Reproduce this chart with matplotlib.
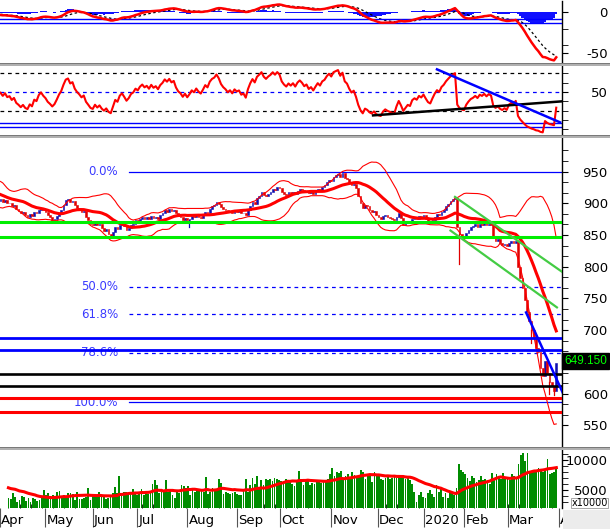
import numpy as np
import pandas as pd
import matplotlib
matplotlib.use("Agg")
import matplotlib.pyplot as plt
from matplotlib.patches import Rectangle
from matplotlib.transforms import blended_transform_factory

W, H, DPI = 610, 529, 100

# ---- data ----
# closes before the visible window (only used to warm up MA / bands / MACD / RSI)
warmup_close = [912, 918, 922, 919, 925, 928, 924, 920, 917, 921, 918, 915, 920, 924, 921,
                925, 930, 935, 932, 926, 920, 914, 908, 903, 900, 904, 910, 916, 920, 918,
                912, 907, 903, 906, 904]

# daily closes, Apr 2019 -> end Mar 2020
close = [906, 902, 905, 900, 901, 896, 898, 891, 888, 884,
         886, 881, 879, 883, 880, 886, 884, 890, 893, 889,
         886, 881, 878, 874, 876, 880, 885, 889, 897, 905,
         907, 902, 904, 897, 893, 890, 886, 888, 879, 874,
         868, 866, 870, 865, 867, 861, 857, 859, 852, 849,
         855, 862, 859, 866, 869, 864, 858, 861, 866, 868,
         873, 871, 876, 879, 876, 878, 875, 880, 877, 879,
         876, 881, 884, 889, 887, 891, 888, 890, 884, 880,
         878, 874, 877, 873, 876, 880, 878, 882, 879, 877,
         881, 886, 884, 891, 895, 897, 902, 899, 894, 891,
         889, 886, 888, 885, 889, 887, 888, 884, 885, 881,
         889, 896, 902, 899, 908, 912, 917, 913, 911, 915,
         918, 923, 921, 926, 924, 918, 915, 913, 917, 915,
         918, 915, 920, 923, 921, 918, 920, 916, 918, 915,
         919, 923, 921, 926, 928, 933, 937, 935, 942, 944,
         946, 942, 947, 940, 938, 933, 929, 931, 924, 912,
         901, 893, 898, 895, 889, 886, 888, 881, 878, 876,
         880, 882, 879, 877, 875, 873, 879, 884, 877, 866,
         869, 872, 870, 876, 878, 876, 880, 878, 881, 876,
         871, 869, 874, 879, 883, 881, 887, 890, 895, 899,
         903, 906, 909, 862, 852, 847, 845, 853, 858, 862,
         864, 867, 863, 868, 866, 869, 865, 868, 866, 847,
         841, 843, 837, 834, 836, 832, 838, 840, 837, 841,
         800, 782, 767, 748, 728, 715, 700, 690, 672, 665,
         640, 628, 651, 632, 618, 612, 604, 649.15]

# long lower shadows that stand out
wick_low = {84: 862, 204: 805, 236: 680, 244: 600, 246: 598}

warmup_volume = [5200, 6100, 5800, 4900, 5600, 6300, 5400, 5000, 5900, 6200,
                 4800, 5500, 5300, 6000, 5100, 4700, 5600, 5200, 4900, 5400]

volume = [3670, 3500, 4500, 3780, 3000, 3400, 3950, 3780, 3100, 3670,
          3000, 3670, 3500, 3200, 3330, 3670, 5000, 4170, 4500, 4080,
          4170, 3900, 4670, 4830, 3670, 4170, 3670, 4500, 4500, 4330,
          3400, 4670, 3500, 3450, 3670, 3830, 5330, 3400, 4170, 3780,
          3900, 4670, 3900, 4170, 3500, 3670, 3900, 4500, 5500, 4500,
          7330, 4330, 4670, 4670, 4500, 4670, 5170, 4500, 4170, 4330,
          5170, 4170, 4500, 4330, 4670, 6000, 6670, 5830, 4500, 4670,
          4830, 6670, 4670, 5000, 4170, 3670, 4670, 4500, 5830, 5670,
          5330, 5670, 4170, 5330, 4670, 4830, 5170, 5000, 4670, 7170,
          4330, 4670, 5330, 5170, 5000, 6830, 6170, 4330, 4670, 4500,
          4330, 4500, 4670, 4400, 4170, 4170, 4830, 6830, 4670, 5830,
          7000, 6000, 7330, 5330, 6670, 5830, 6830, 6670, 6830, 6500,
          7000, 6830, 6670, 6500, 6330, 6830, 6500, 6670, 6000, 5670,
          6670, 8170, 6830, 5830, 6670, 6830, 5830, 6170, 6000, 6330,
          6670, 6170, 6500, 6330, 6830, 7670, 8670, 7330, 8000, 7830,
          8170, 7000, 7330, 7670, 7000, 8000, 7500, 7000, 7330, 8330,
          8000, 6830, 7670, 7330, 6330, 8000, 7670, 7330, 6830, 6670,
          7000, 7330, 6830, 7000, 7330, 7000, 7330, 7170, 7000, 6830,
          7330, 6670, 6000, 4670, 3000, 4170, 4670, 3900, 3670, 4500,
          5000, 4330, 3900, 5830, 4670, 5330, 3900, 4500, 3670, 4670,
          4500, 4170, 5330, 9330, 8330, 8000, 7670, 7000, 6500, 7330,
          7000, 6330, 6670, 7330, 6670, 6830, 6330, 6000, 7830, 7000,
          7670, 7000, 6830, 7830, 7000, 6830, 6670, 7670, 7330, 7000,
          9330, 10830, 11170, 9830, 11170, 8170, 8170, 8000, 8000, 8670,
          8330, 8000, 8170, 10170, 7670, 7830, 8000, 8670]

month_labels = ["Apr", "May", "Jun", "Jul", "Aug", "Sep", "Oct", "Nov", "Dec",
                "2020", "Feb", "Mar", "Apr"]
month_pos = [-3.8, 16.7, 38.0, 58.0, 80.7, 102.9, 122.4, 145.6, 166.4,
             187.3, 205.6, 225.1, 248.2]

support_green = [871, 847]
support_blue = [687, 669]
support_black = [631.5, 612.5]
support_red = [594, 572]
fib_high, fib_low = 950, 586.5
fib_ratios = [0.0, 0.5, 0.618, 0.786, 1.0]
fib_names = ["0.0%", "50.0%", "61.8%", "78.6%", "100.0%"]
channel_upper = ([202.0, 249.6], [910, 792])
channel_lower = ([200.0, 247.3], [857, 736])
price_trend = ([233.6, 250.1], [728, 600])
rsi_black = ([165.6, 249.6], [24.9, 40.0])
rsi_blue = ([194.0, 248.7], [74.4, 17.4])
rsi_levels_blue = [16.3, 12.0]
macd_levels_blue = [-7.8, -13.4]
last_label = "649.150"

# ---- indicators ----
nw = len(warmup_close)
c = pd.Series(warmup_close + close, dtype=float)
ma20 = c.rolling(20).mean()
sd20 = c.rolling(20).std(ddof=0)
upper = (ma20 + 2 * sd20).values[nw:]
lower = (ma20 - 2 * sd20).values[nw:]
ma = ma20.values[nw:]

ema12 = c.ewm(span=12, adjust=False).mean()
ema26 = c.ewm(span=26, adjust=False).mean()
macd = ema12 - ema26
signal = macd.ewm(span=9, adjust=False).mean()
hist = (macd - signal).values[nw:]
macd = macd.values[nw:]
signal = signal.values[nw:]

delta = c.diff()
gain = delta.clip(lower=0).ewm(alpha=1 / 14, adjust=False).mean()
loss = (-delta.clip(upper=0)).ewm(alpha=1 / 14, adjust=False).mean()
rsi = (100 - 100 / (1 + gain / loss)).values[nw:]

v = pd.Series(warmup_volume + volume, dtype=float)
vol_ma = v.rolling(20).mean().values[len(warmup_volume):]

x = np.arange(len(close))
cl = np.array(close, dtype=float)
op = np.r_[warmup_close[-1], cl[:-1]]

# ---- figure ----
fig = plt.figure(figsize=(W / DPI, H / DPI), dpi=DPI)
fig.patch.set_facecolor("white")
XL = (-0.22, 249.56)


def panel(y0, y1):
    ax = fig.add_axes([0, 1 - y1 / H, 562 / W, (y1 - y0) / H])
    for s in ["left", "top", "bottom"]:
        ax.spines[s].set_visible(False)
    ax.spines["right"].set_linewidth(1.0)
    ax.yaxis.tick_right()
    ax.set_xlim(*XL)
    ax.set_xticks([])
    return ax


def right_labels(ax, major, labels, minor):
    ax.set_yticks(major)
    ax.set_yticklabels(labels, ha="right")
    ax.set_yticks(minor, minor=True)
    ax.tick_params(axis="y", which="major", direction="out", length=4, pad=29, labelsize=9.5)
    ax.tick_params(axis="y", which="minor", direction="out", length=4)


# MACD panel
ax1 = panel(1, 63)
ax1.set_ylim(-61.8, 13.8)
ax1.bar(x, hist, width=1.0, color="#1010ff", zorder=2)
ax1.plot(x, signal, color="black", lw=0.9, ls=(0, (2, 2)), zorder=3)
ax1.plot(x, macd, color="#ff0000", lw=1.8, zorder=4)
for lv in macd_levels_blue:
    ax1.axhline(lv, color="#0000ff", lw=1.0, zorder=3)
right_labels(ax1, [0, -50], ["0", "-50"], [-20, -40])

# RSI panel
ax2 = panel(66, 135)
ax2.set_ylim(3.8, 78)
for lv in (70, 30):
    ax2.axhline(lv, color="black", lw=0.9, ls=(0, (3, 3)))
ax2.axhline(50, color="#0000ff", lw=0.9, ls=(0, (3, 3)))
for lv in rsi_levels_blue:
    ax2.axhline(lv, color="#0000ff", lw=1.0)
ax2.plot(x, rsi, color="#ff0000", lw=1.5, zorder=3)
ax2.plot(*rsi_black, color="black", lw=1.8, zorder=4)
ax2.plot(*rsi_blue, color="#0000ff", lw=1.8, zorder=4)
right_labels(ax2, [50], ["50"], [10, 20, 30, 40, 60, 70])

# price panel
ax3 = panel(138, 447)
ax3.set_ylim(516.1, 1002.8)
fx0 = 57.1
for r, name in zip(fib_ratios, fib_names):
    lv = fib_high - r * (fib_high - fib_low)
    ls = "-" if r in (0.0, 1.0) else (0, (3, 3))
    ax3.plot([fx0, XL[1]], [lv, lv], color="#0000ff", lw=0.9, ls=ls, zorder=1)
    ax3.text(52.2, lv, name, color="#3a3aff", fontsize=8.5, ha="right", va="center", zorder=1)

up = cl >= op
body_h = np.where(np.abs(cl - op) < 1.2, 1.2, cl - op)
ax3.bar(x[up], body_h[up], bottom=op[up], width=0.75, color="#1010b0", edgecolor="#1010b0",
        lw=0.4, zorder=2)
ax3.bar(x[~up], body_h[~up], bottom=op[~up], width=0.75, color="#e00000", edgecolor="#e00000",
        lw=0.4, zorder=2)
for i, lo in wick_low.items():
    col = "#1010b0" if up[i] else "#e00000"
    ax3.plot([i, i], [lo, min(op[i], cl[i])], color=col, lw=0.9, zorder=2)

ax3.plot(x, upper, color="#ff0000", lw=0.8, zorder=3)
ax3.plot(x, lower, color="#ff0000", lw=0.8, zorder=3)
ax3.plot(x, ma, color="#ff0000", lw=2.2, zorder=3)

for lv in support_green:
    ax3.axhline(lv, color="#00ee00", lw=2.2, zorder=3)
for lv in support_blue:
    ax3.axhline(lv, color="#0000ff", lw=2.0, zorder=3)
for lv in support_black:
    ax3.axhline(lv, color="black", lw=1.9, zorder=3)
for lv in support_red:
    ax3.axhline(lv, color="#ff0000", lw=2.2, zorder=3)
ax3.plot(*channel_upper, color="#44cc44", lw=1.6, zorder=4)
ax3.plot(*channel_lower, color="#44cc44", lw=1.6, zorder=4)
ax3.plot(*price_trend, color="#0000ff", lw=1.8, zorder=4)
right_labels(ax3, [550, 600, 700, 750, 800, 850, 900, 950],
             ["550", "600", "700", "750", "800", "850", "900", "950"],
             [550 + k * 50 / 3 for k in range(1, 27) if k % 3])
ax3.text(607 / W, 1 - 361 / H, last_label, transform=fig.transFigure, ha="right", va="center",
         color="#00ff00", fontsize=8.5, family="Liberation Sans", zorder=10,
         bbox=dict(boxstyle="square,pad=0.2", facecolor="black", edgecolor="black"))

# volume panel
ax4 = panel(450, 508)
ax4.set_ylim(2000, 11667)
ax4.bar(x, volume, width=0.8, color="#008c00", zorder=2)
ax4.plot(x, vol_ma, color="#ff0000", lw=2.2, zorder=3)
right_labels(ax4, [5000, 10000], ["5000", "10000"], list(range(3000, 12000, 1000)))
ax4.set_xticks(month_pos)
ax4.set_xticklabels([])
ax4.set_xticks(np.arange(0, 250, 5), minor=True)
ax4.tick_params(axis="x", which="major", direction="out", length=14, width=0.8, color="#555555")
ax4.tick_params(axis="x", which="minor", direction="in", length=3, width=0.6)
tr = blended_transform_factory(ax4.transData, ax4.transAxes)
for p, lab in zip(month_pos, month_labels):
    ax4.text(p + 0.6, -0.21, lab, transform=tr, ha="left", va="center", fontsize=9.5,
             clip_on=False)
fig.text(608 / W, 1 - 503 / H, "x10000", ha="right", va="center", fontsize=7, zorder=10,
         bbox=dict(boxstyle="square,pad=0.05", facecolor="white", edgecolor="#999999", lw=0.6))

# separators and corner
for y0 in (63, 135, 447):
    fig.patches.append(Rectangle((0, 1 - (y0 + 3) / H), 1, 3 / H, transform=fig.transFigure,
                                 facecolor="#b0b0b0", edgecolor="none", zorder=5))
    fig.patches.append(Rectangle((0, 1 - (y0 + 1.2) / H), 1, 1.2 / H, transform=fig.transFigure,
                                 facecolor="#7a7a7a", edgecolor="none", zorder=6))
fig.patches.append(Rectangle((563 / W, 0), 47 / W, 19 / H, transform=fig.transFigure,
                             facecolor="#ececec", edgecolor="none", zorder=20))

fig.savefig("out.png", dpi=DPI)
